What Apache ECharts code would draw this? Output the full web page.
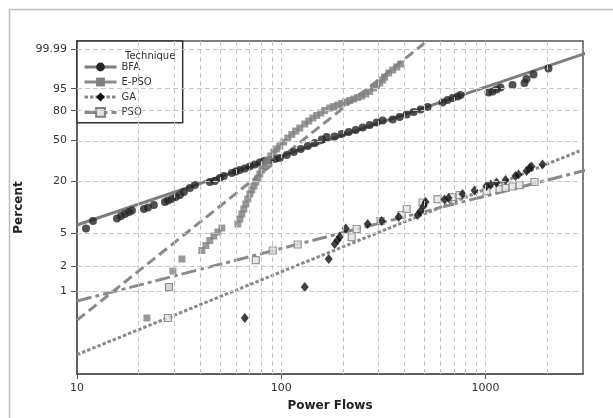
<!DOCTYPE html>
<html>
<head>
<meta charset="utf-8">
<title>Power Flows probability plot</title>
<style>
  html, body { margin: 0; padding: 0; background: #fff; }
  #chart { width: 613px; height: 418px; }
</style>
</head>
<body>
<div id="chart"></div>
<script src="https://cdn.jsdelivr.net/npm/echarts@6/dist/echarts.min.js"></script>
<script>
// Weibull probability plot: x = power flows (log), y = percent (Weibull scale)
const percentTicks = [1, 2, 5, 20, 50, 80, 95, 99.99];
const flowTicks = [10, 100, 1000];
const flowGrid = [20, 30, 40, 50, 60, 70, 80, 90, 100, 200, 300, 400, 500, 600, 700, 800, 900, 1000, 2000];

// [power flow, percent]
const bfaPoints = [
  [11.07, 5.66], [11.97, 6.95], [15.69, 7.43], [16.41, 7.96], [17.17, 8.39], [17.96, 8.86], [18.58, 9.23],
  [21.27, 9.61], [22.24, 9.99], [23.79, 10.69], [26.94, 11.57], [27.86, 12.03], [29.15, 12.52], [30.49, 13.2],
  [31.9, 13.9], [33.37, 15.04], [35.69, 16.68], [37.76, 18.0], [44.7, 19.43], [47.29, 19.93], [50.03, 21.47],
  [52.33, 22.58], [57.28, 24.3], [59.92, 25.19], [62.68, 26.14], [66.3, 27.09], [70.15, 28.42], [74.2, 29.8],
  [78.5, 31.22], [82.11, 32.31], [87.86, 33.06], [92.94, 33.81], [98.33, 34.61], [106.4, 37.01], [115.1, 39.53],
  [124.6, 42.15], [134.8, 44.88], [145.8, 47.68], [157.8, 51.1], [166.9, 53.57], [182.6, 54.07], [197.6, 56.63],
  [213.9, 58.66], [231.4, 60.73], [250.3, 63.32], [270.8, 65.91], [293.1, 68.48], [313.6, 70.52], [351, 71.53],
  [379.8, 74.02], [410.9, 76.46], [444.6, 78.81], [481, 81.09], [520.5, 83.25], [616.2, 86.84], [651.8, 88.65],
  [689.6, 89.99], [729.6, 90.9], [754.7, 91.83], [1034, 93.2], [1082, 93.7], [1132, 94.63], [1184, 95.47],
  [1355, 96.39], [1551, 97.02], [1587, 98.04], [1717, 98.85], [2033, 99.49]
];
const epsoPoints = [
  [21.99, 0.468], [28.18, 1.116], [29.48, 1.745], [32.63, 2.44], [40.85, 3.09], [42.73, 3.55], [44.7, 4.07],
  [46.76, 4.61], [48.92, 5.15], [51.17, 5.74], [61.29, 6.4], [62.68, 7.33], [64.1, 8.39], [65.56, 9.61],
  [67.05, 10.97], [68.58, 12.52], [70.15, 14.28], [71.74, 15.84], [73.37, 17.55], [75.04, 19.43], [76.75, 21.47],
  [78.5, 23.71], [80.28, 26.14], [82.11, 28.74], [83.98, 30.86], [85.9, 33.06], [88.85, 36.19], [91.9, 39.53],
  [95.06, 42.15], [98.33, 44.88], [102.8, 48.64], [107.6, 52.58], [112.6, 56.12], [117.7, 59.69], [123.2, 62.8],
  [130.3, 66.94], [136.3, 70.01], [142.6, 73.03], [149.1, 75.49], [156.1, 77.88], [163.2, 80.19], [172.6, 82.4],
  [180.6, 83.66], [188.9, 84.9], [197.6, 86.08], [206.8, 87.21], [216.3, 88.3], [226.2, 89.33], [236.6, 90.32],
  [247.5, 91.24], [258.9, 92.4], [270.8, 93.7], [283.3, 95.27], [293.1, 96.21], [303.2, 97.02], [313.6, 97.81],
  [320.7, 98.44], [335.5, 99.05], [351, 99.37], [367.2, 99.6], [384.1, 99.75]
];
const gaPoints = [
  [66.3, 0.468], [130.3, 1.116], [170.7, 2.44], [182.6, 3.7], [188.9, 4.13], [193.2, 4.48], [206.8, 5.66],
  [264.8, 6.4], [310.1, 6.95], [375.6, 7.75], [465, 8.18], [481, 9.1], [497.6, 10.41], [508.9, 11.57],
  [630.2, 12.37], [659.2, 12.86], [771.9, 14.28], [883.6, 15.64], [1011, 17.55], [1058, 18.24], [1132, 19.19],
  [1253, 20.44], [1402, 22.58], [1450, 23.42], [1587, 25.5], [1642, 27.42], [1679, 28.42], [1900, 29.8]
];
const psoPoints = [
  [27.86, 0.468], [28.18, 1.116], [75.04, 2.37], [90.87, 3.09], [120.4, 3.65], [221.2, 4.48], [234, 5.59],
  [306.6, 6.95], [388.4, 8.18], [410.9, 9.61], [492, 11.42], [582.5, 12.52], [689.6, 13.2], [746.2, 13.9],
  [1011, 15.43], [1171, 16.25], [1253, 16.68], [1355, 17.33], [1467, 18.0], [1736, 19.43]
];

// fitted Weibull lines, ends only (straight on this paper)
const bfaFit = [[10, 6.23], [3119, 99.972]];
const epsoFit = [[10, 0.44], [513, 99.9987]];
const gaFit = [[10, 0.167], [2882, 40.4]];
const psoFit = [[10, 0.753], [3119, 26.14]];

const FONT = 'DejaVu Sans';
const toW = (pct) => Math.log(-Math.log(1 - pct / 100));
const toXY = (rows) => rows.map(([f, p]) => [f, toW(p)]);
const pctLabel = (v) => {
  const hit = percentTicks.find((p) => Math.abs(toW(p) - v) < 1e-6);
  return hit === undefined ? '' : String(hit);
};

function fitSeries(name, rows, symbol, itemStyle, lineStyle) {
  return {
    type: 'line', name, data: toXY(rows), symbol, symbolSize: 8, showSymbol: false,
    clip: false, silent: true, z: 2, itemStyle, lineStyle
  };
}

function pointSeries(name, rows, symbol, size, itemStyle) {
  return { type: 'scatter', name, data: toXY(rows), symbol, symbolSize: size, silent: true, z: 3, itemStyle };
}

const chart = echarts.init(document.getElementById('chart'), null, { renderer: 'canvas' });
chart.setOption({
  animation: false,
  backgroundColor: '#fff',
  title: {
    text: 'Technique', left: 120, top: 46,
    textStyle: { fontFamily: FONT, fontSize: 10, fontWeight: 'normal', color: '#333' }
  },
  legend: {
    orient: 'vertical', left: 77, top: 41, padding: [21, 31, 5, 6],
    itemWidth: 32, itemHeight: 11, itemGap: 5, selectedMode: false,
    backgroundColor: '#fff', borderColor: '#333', borderWidth: 1.5,
    lineStyle: { width: 3 },
    textStyle: { fontFamily: FONT, fontSize: 10, color: '#333' },
    data: [{ name: 'BFA' }, { name: 'E-PSO', lineStyle: { type: 'solid' } }, { name: 'GA' }, { name: 'PSO' }]
  },
  graphic: [{
    type: 'rect', left: 7, top: 7, silent: true, z: -1,
    shape: { width: 640, height: 440 },
    style: { fill: 'none', stroke: '#bdbdbd', lineWidth: 1.5 }
  }],
  grid: { left: 77, right: 30, top: 41, bottom: 44, show: true, borderColor: '#555', borderWidth: 1.5 },
  xAxis: {
    type: 'log', logBase: 10, min: 10, max: 3000,
    name: 'Power Flows', nameLocation: 'middle', nameGap: 26,
    nameTextStyle: { fontFamily: FONT, fontSize: 12, fontWeight: 'bold', color: '#222' },
    axisLine: { show: true, onZero: false, lineStyle: { color: '#555', width: 1.5 } },
    axisTick: { show: true, length: 5, customValues: flowTicks, lineStyle: { color: '#555' } },
    axisLabel: {
      customValues: flowTicks, formatter: (v) => String(Math.round(v)), margin: 9,
      fontFamily: FONT, fontSize: 11, color: '#333'
    },
    splitLine: { show: false }
  },
  yAxis: {
    type: 'value', min: -6.94, max: 2.44,
    name: 'Percent', nameLocation: 'middle', nameGap: 52, nameRotate: 90,
    nameTextStyle: { fontFamily: FONT, fontSize: 12, fontWeight: 'bold', color: '#222' },
    axisLine: { show: true, onZero: false, lineStyle: { color: '#555', width: 1.5 } },
    axisTick: { show: true, length: 6, customValues: percentTicks.map(toW), lineStyle: { color: '#555' } },
    axisLabel: {
      customValues: percentTicks.map(toW), formatter: pctLabel, margin: 10,
      fontFamily: FONT, fontSize: 11, color: '#333'
    },
    splitLine: { show: false }
  },
  series: [
    {
      type: 'line', name: 'grid', data: [], silent: true, z: 1,
      markLine: {
        silent: true, symbol: 'none', animation: false, label: { show: false },
        lineStyle: { color: '#c8c8c8', type: [5, 3], width: 1 },
        data: [
          ...flowGrid.map((v) => ({ xAxis: v })),
          ...percentTicks.map((p) => ({ yAxis: toW(p) }))
        ]
      }
    },
    fitSeries('BFA', bfaFit, 'circle', { color: '#262626' }, { color: '#7d7d7d', width: 3 }),
    fitSeries('E-PSO', epsoFit, 'rect', { color: '#808080' }, { color: '#8a8a8a', width: 3, type: [10, 5] }),
    fitSeries('GA', gaFit, 'diamond', { color: '#111' }, { color: '#8a8a8a', width: 3, type: [3.5, 2] }),
    fitSeries('PSO', psoFit, 'rect', { color: '#e4e4e4', borderColor: '#808080', borderWidth: 1.2 },
      { color: '#8a8a8a', width: 3, type: [15, 4, 4, 4] }),
    pointSeries('BFA data', bfaPoints, 'circle', 8, { color: '#262626' }),
    pointSeries('E-PSO data', epsoPoints, 'rect', 7, { color: '#808080' }),
    pointSeries('PSO data', psoPoints, 'rect', 7, { color: '#e4e4e4', borderColor: '#808080', borderWidth: 1.2 }),
    pointSeries('GA data', gaPoints, 'diamond', [8, 10], { color: '#111' })
  ]
});
</script>
</body>
</html>
